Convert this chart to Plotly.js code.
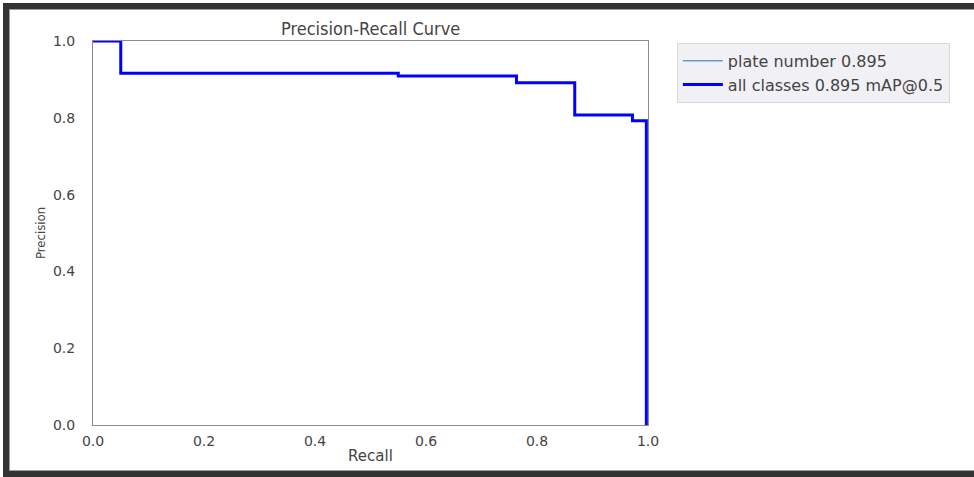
<!DOCTYPE html>
<html>
<head>
<meta charset="utf-8">
<script src="https://cdn.plot.ly/plotly-3.0.1.min.js"></script>
<style>
  html, body { margin: 0; padding: 0; background: #ffffff; }
  #wrap { position: relative; width: 974px; height: 477px; overflow: hidden; }
  #chart { position: absolute; left: 0; top: 0; width: 974px; height: 477px; }
  #frame { position: absolute; left: 3px; top: 3px; width: 980px; height: 474px;
           border-left: 6px solid #333333; border-top: 6px solid #333333; border-bottom: 6px solid #333333;
           box-shadow: inset 1px 1px 0 #9a9a9a, inset 0 -1px 0 #9a9a9a;
           box-sizing: border-box; pointer-events: none; }
</style>
</head>
<body>
<div id="wrap">
  <div id="chart"></div>
  <div id="frame"></div>
</div>
<script>
// Data (recall, precision step points)
const recall    = [0.0, 0.050, 0.550, 0.763, 0.868, 0.972, 0.997];
const precision = [1.0, 0.916, 0.909, 0.891, 0.807, 0.792, 0.0];
const classLabel = 'plate number 0.895';
const allLabel   = 'all classes 0.895 mAP@0.5';
const tickVals   = [0, 0.2, 0.4, 0.6, 0.8, 1.0];
const tickText   = ['0.0', '0.2', '0.4', '0.6', '0.8', '1.0'];

const traces = [
  {
    x: recall, y: precision, type: 'scatter', mode: 'lines',
    line: { shape: 'hv', width: 1, color: '#1f77b4' },
    name: classLabel
  },
  {
    x: recall, y: precision, type: 'scatter', mode: 'lines',
    line: { shape: 'hv', width: 3, color: '#0000ff' },
    name: allLabel
  }
];

const axisCommon = {
  range: [0, 1],
  showgrid: false,
  zeroline: false,
  showline: true,
  mirror: true,
  linecolor: '#8a8a8a',
  linewidth: 1,
  ticks: '',
  tickvals: tickVals,
  ticktext: tickText,
  tickfont: { family: 'DejaVu Sans', size: 14, color: '#444444' }
};

const layout = {
  width: 974, height: 477,
  margin: { l: 93, r: 326, t: 41, b: 52 },
  paper_bgcolor: '#ffffff',
  plot_bgcolor: '#ffffff',
  showlegend: true,
  title: {
    text: 'Precision-Recall Curve',
    font: { family: 'DejaVu Sans Condensed, DejaVu Sans', size: 18, color: '#444444' },
    x: 0.3805, xanchor: 'center', y: 0.94, yanchor: 'middle'
  },
  xaxis: Object.assign({}, axisCommon, {
    ticklabelstandoff: 3,
    title: { text: 'Recall', font: { family: 'DejaVu Sans', size: 15, color: '#444444' }, standoff: 2 }
  }),
  yaxis: Object.assign({}, axisCommon, {
    ticklabelstandoff: 14,
    title: { text: 'Precision', font: { family: 'DejaVu Sans Condensed, DejaVu Sans', size: 13, color: '#444444' }, standoff: 4 }
  }),
  legend: {
    x: 1.052, xanchor: 'left', y: 0.995, yanchor: 'top',
    bgcolor: '#f1f1f5', bordercolor: '#d8d8d8', borderwidth: 1,
    font: { family: 'DejaVu Sans', size: 16, color: '#444444' },
    itemwidth: 40,
    tracegroupgap: 0
  }
};

Plotly.newPlot('chart', traces, layout, { displayModeBar: false, staticPlot: true });
</script>
</body>
</html>
